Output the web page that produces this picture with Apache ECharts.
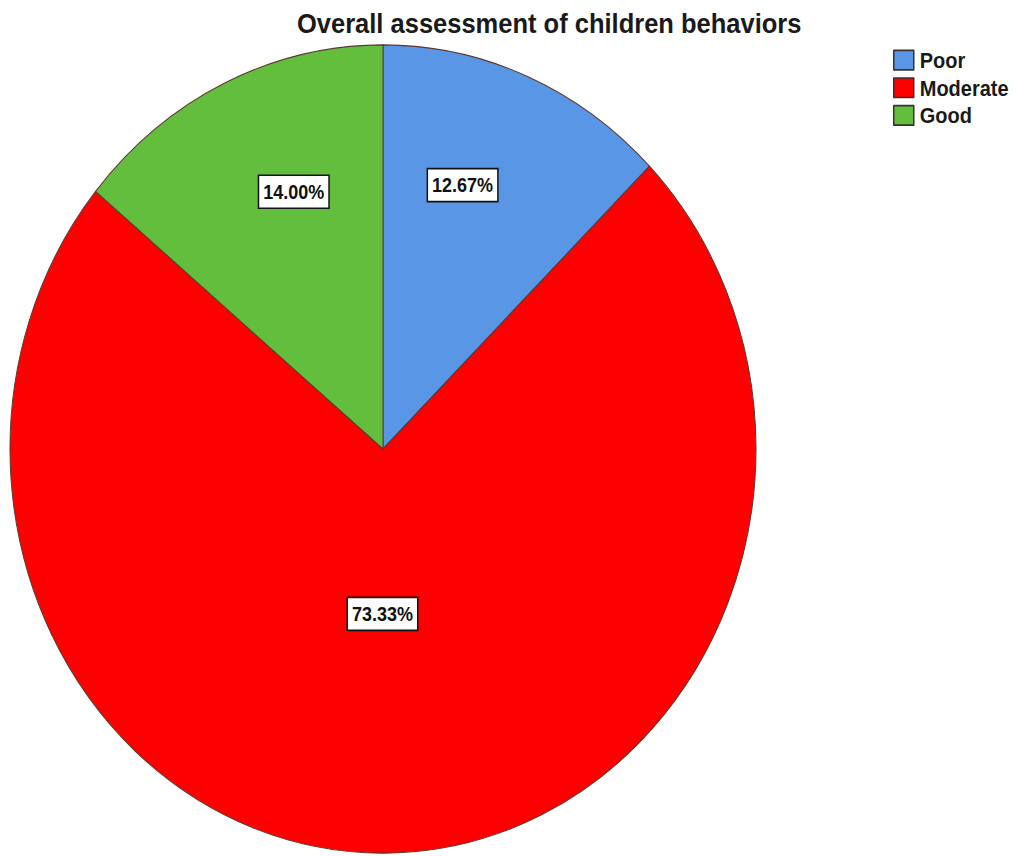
<!DOCTYPE html>
<html>
<head>
<meta charset="utf-8">
<script src="https://cdn.jsdelivr.net/npm/echarts@6/dist/echarts.min.js"></script>
<style>
  html, body { margin: 0; padding: 0; background: #ffffff; overflow: hidden; }
  #chart { width: 1017px; height: 856px; transform: scaleY(1.0835); transform-origin: 0 0; }
</style>
</head>
<body>
<div id="chart"></div>
<script>
// Data
const titleText = 'Overall assessment of children behaviors';
const categories = ['Poor', 'Moderate', 'Good'];
const counts = [19, 110, 21]; // 12.67%, 73.33%, 14.00% of 150
const colors = ['#5a96e6', '#ff0000', '#62be3c'];

// Label placement (angle in degrees clockwise from top, radius as fraction of pie radius)
const labelAngle = [18.1, 180.2, -20.6];
const labelRadiusFrac = [0.687, 0.408, 0.68];

const CX = 383, CY = 414.4, R = 373;

const chart = echarts.init(document.getElementById('chart'), null, { renderer: 'svg' });
chart.setOption({
  backgroundColor: '#ffffff',
  animation: false,
  title: {
    text: titleText,
    left: 297,
    top: 9,
    padding: 0,
    textStyle: { fontFamily: 'Liberation Sans, Arial, sans-serif', fontSize: 25.5, fontWeight: 'bold', color: '#1a1a1a' }
  },
  legend: {
    orient: 'vertical',
    left: 893,
    top: 45.5,
    padding: 0,
    itemWidth: 20,
    itemHeight: 18,
    itemGap: 5.5,
    icon: 'rect',
    data: categories,
    itemStyle: { borderColor: '#3a3030', borderWidth: 1.5 },
    textStyle: { fontFamily: 'Liberation Sans, Arial, sans-serif', fontSize: 20, fontWeight: 'bold', color: '#1a1a1a', padding: [0, 0, 0, 1] }
  },
  series: [{
    type: 'pie',
    center: [CX, CY],
    radius: [0, R],
    startAngle: 90,
    clockwise: true,
    avoidLabelOverlap: false,
    itemStyle: { borderColor: '#5a3a30', borderWidth: 1 },
    emphasis: { disabled: true },
    label: {
      show: true,
      position: 'inside',
      formatter: function (p) { return p.percent.toFixed(2) + '%'; },
      fontFamily: 'Liberation Sans, Arial, sans-serif',
      fontSize: 18,
      fontWeight: 'bold',
      color: '#111111',
      backgroundColor: '#ffffff',
      borderColor: '#111111',
      borderWidth: 1.5,
      padding: [6, 4, 5, 4]
    },
    labelLine: { show: false },
    labelLayout: function (p) {
      const i = p.dataIndex;
      const a = labelAngle[i] * Math.PI / 180;
      const r = labelRadiusFrac[i] * R;
      return { x: CX + r * Math.sin(a), y: CY - r * Math.cos(a), align: 'center', verticalAlign: 'middle' };
    },
    data: categories.map((c, i) => ({ name: c, value: counts[i], itemStyle: { color: colors[i] } }))
  }]
});
</script>
</body>
</html>
